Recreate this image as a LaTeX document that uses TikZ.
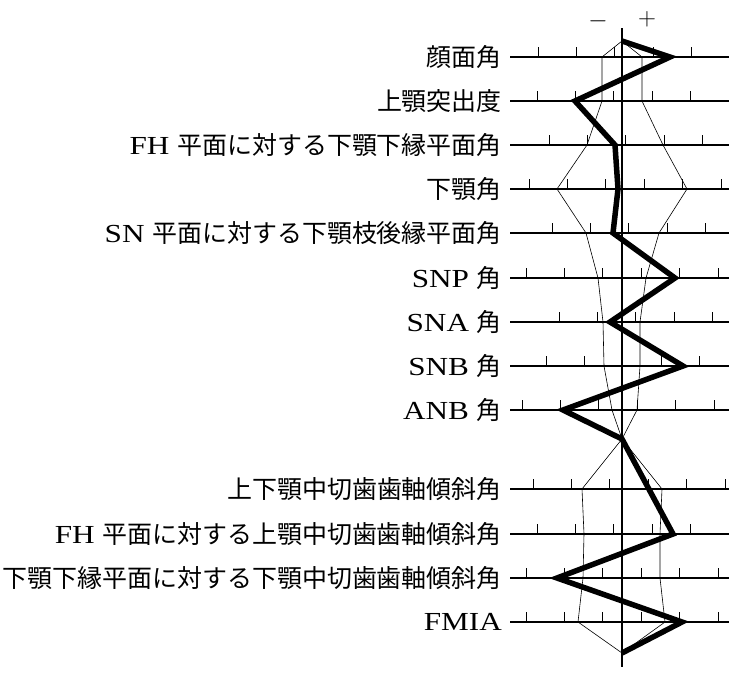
\documentclass[tikz,border=0pt]{standalone}
\usepackage{fontspec}
\setmainfont{Liberation Serif}[FakeStretch=1.2]
\newfontfamily\jp{Noto Sans CJK JP}[Scale=0.96]
\usepackage{tikz}

\begin{document}
\begin{tikzpicture}[x=1pt,y=-1pt,
    row/.style={line width=1.8pt},
    tick/.style={line width=0.7pt},
    norm/.style={line width=0.6pt},
    patient/.style={line width=5.5pt,line join=miter},
    lbl/.style={anchor=east,inner sep=0pt,font=\fontsize{26}{26}\selectfont}]
    \useasboundingbox (0,0) rectangle (742,680);

    % rows: y / label / ticks
    \node[lbl] (r1) at (502,57) {\jp 顔面角};
    \node[lbl] (r2) at (502,101) {\jp 上顎突出度};
    \node[lbl] (r3) at (502,145) {FH {\jp 平面に対する下顎下縁平面角}};
    \node[lbl] (r4) at (502,189) {\jp 下顎角};
    \node[lbl] (r5) at (502,233) {SN {\jp 平面に対する下顎枝後縁平面角}};
    \node[lbl] (r6) at (502,278) {SNP {\jp 角}};
    \node[lbl] (r7) at (502,322) {SNA {\jp 角}};
    \node[lbl] (r8) at (502,366) {SNB {\jp 角}};
    \node[lbl] (r9) at (502,410) {ANB {\jp 角}};
    \node[lbl] (r10) at (502,489) {\jp 上下顎中切歯歯軸傾斜角};
    \node[lbl] (r11) at (502,534) {FH {\jp 平面に対する上顎中切歯歯軸傾斜角}};
    \node[lbl] (r12) at (502,578) {\jp 下顎下縁平面に対する下顎中切歯歯軸傾斜角};
    \node[lbl] (r13) at (502,622) {FMIA};

    \foreach \y/\t in {57/538,101/537,145/549,189/529,233/552,278/526,
                       322/559,366/546,410/522,489/533,534/537,578/526,622/526}{
      \draw[row] (510,\y) -- (729,\y);
      \foreach \k in {0,...,5}{
        \pgfmathsetmacro\tx{\t+38.4*\k}
        \ifdim\tx pt<726pt \draw[tick] (\tx,\y) -- (\tx,\y-10); \fi
      }
    }

    % axis and signs
    \coordinate (top) at (622,41);
    \coordinate (mid) at (622,439);
    \coordinate (bot) at (622,653);
    \draw[line width=1.4pt] (622,28) -- (622,667);
    \node[font=\fontsize{28}{28}\selectfont] (minus) at (598,21) {$-$};
    \node[font=\fontsize{28}{28}\selectfont] (plus) at (647,19) {$+$};

    % norm band
    \draw[norm] (top) -- (602,57) -- (602,101) -- (587,145) -- (557,189)
      -- (586,233) -- (598,278) -- (603,322) -- (604,366) -- (612,410) -- (mid)
      -- (582,489) -- (584,534) -- (583,578) -- (578,622) -- (bot);
    \draw[norm] (top) -- (642,57) -- (642,101) -- (663,145) -- (687,189)
      -- (659,233) -- (646,278) -- (640,322) -- (640,366) -- (637,410) -- (mid)
      -- (662,489) -- (660,534) -- (660,578) -- (665,622) -- (bot);

    % patient
    \draw[patient] (top) -- (670,57) -- (575,101) -- (615,145) -- (618,189)
      -- (613,233) -- (675,278) -- (610,322) -- (683,366) -- (563,410) -- (mid)
      -- (673,534) -- (557,578) -- (682,622) -- (bot);
\end{tikzpicture}
\end{document}
